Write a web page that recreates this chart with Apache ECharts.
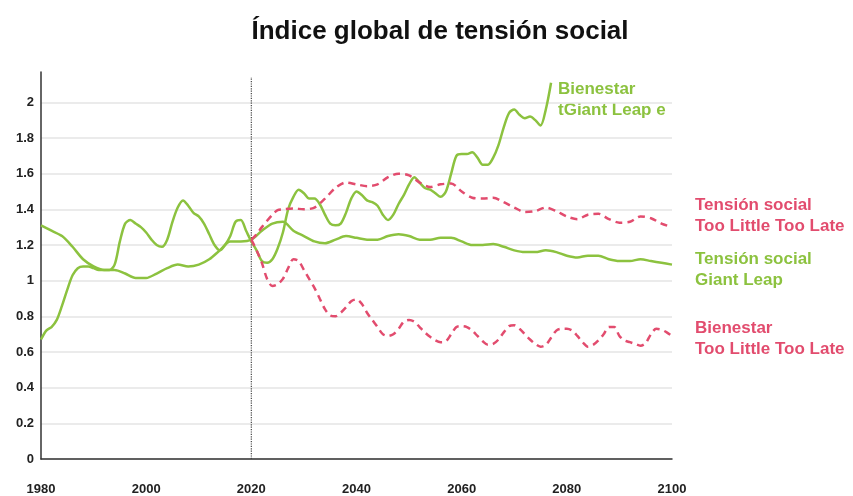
<!DOCTYPE html>
<html>
<head>
<meta charset="utf-8">
<script src="https://cdn.jsdelivr.net/npm/echarts@6/dist/echarts.min.js"></script>
<style>
  html, body { margin: 0; padding: 0; background: #fff; }
  #root { width: 853px; height: 496px; }
</style>
</head>
<body>
<div id="root"></div>
<script>
// Bienestar - Giant Leap (1980-2077)
const bienestarGLYears = [1980,1981,1982,1983,1984,1985,1986,1987,1988,1989,1990,1991,1992,1993,1994,1995,1996,1997,1998,1999,
  2000,2001,2002,2003,2004,2005,2006,2007,2008,2009,2010,2011,2012,2013,2014,2015,2016,2017,2018,2019,
  2020,2021,2022,2023,2024,2025,2026,2027,2028,2029,2030,2031,2032,2033,2034,2035,2036,2037,2038,2039,
  2040,2041,2042,2043,2044,2045,2046,2047,2048,2049,2050,2051,2052,2053,2054,2055,2056,2057,2058,2059,
  2060,2061,2062,2063,2064,2065,2066,2067,2068,2069,2070,2071,2072,2073,2074,2075,2076,2077];
const bienestarGL = [0.67,0.72,0.74,0.78,0.86,0.95,1.03,1.07,1.08,1.08,1.07,1.06,1.06,1.06,1.09,1.22,1.32,1.34,1.32,1.30,
  1.27,1.23,1.20,1.19,1.23,1.33,1.41,1.45,1.42,1.38,1.36,1.32,1.26,1.20,1.17,1.20,1.25,1.33,1.34,1.28,
  1.22,1.17,1.11,1.10,1.12,1.18,1.27,1.40,1.47,1.51,1.49,1.46,1.46,1.43,1.37,1.32,1.31,1.32,1.38,1.46,
  1.50,1.48,1.45,1.44,1.42,1.37,1.34,1.37,1.43,1.48,1.54,1.58,1.55,1.52,1.51,1.49,1.47,1.50,1.60,1.70,
  1.71,1.71,1.72,1.69,1.65,1.65,1.69,1.76,1.86,1.94,1.96,1.93,1.91,1.92,1.90,1.87,1.96,2.11];

// Tensión social - Giant Leap (1980-2100, every 2 years)
const tensionGLYears = [1980,1982,1984,1986,1988,1990,1992,1994,1996,1998,2000,2002,2004,2006,2008,2010,2012,2014,2016,2018,
  2020,2022,2024,2026,2028,2030,2032,2034,2036,2038,2040,2042,2044,2046,2048,2050,2052,2054,2056,2058,
  2060,2062,2064,2066,2068,2070,2072,2074,2076,2078,2080,2082,2084,2086,2088,2090,2092,2094,2096,2098,2100];
const tensionGL = [1.31,1.28,1.25,1.19,1.12,1.08,1.06,1.06,1.04,1.015,1.015,1.04,1.07,1.09,1.08,1.09,1.12,1.17,1.22,1.22,
  1.23,1.28,1.32,1.33,1.28,1.25,1.22,1.21,1.23,1.25,1.24,1.23,1.23,1.25,1.26,1.25,1.23,1.23,1.24,1.24,
  1.22,1.20,1.20,1.205,1.19,1.17,1.16,1.16,1.17,1.16,1.14,1.13,1.14,1.14,1.12,1.11,1.11,1.12,1.11,1.10,1.09];

// Tensión social - Too Little Too Late (2020-2100)
const tensionTLYears = [2020,2021,2022,2024,2025,2026,2028,2030,2032,2034,2036,2038,2040,2042,2044,2046,2048,2050,2052,2054,
  2056,2058,2060,2062,2064,2066,2068,2070,2072,2074,2076,2078,2080,2082,2084,2086,2088,2090,2092,2094,2096,2098,2100];
const tensionTL = [1.23,1.26,1.30,1.37,1.395,1.40,1.405,1.40,1.41,1.46,1.52,1.55,1.54,1.53,1.54,1.58,1.60,1.59,1.55,1.525,
  1.54,1.545,1.50,1.465,1.46,1.465,1.44,1.41,1.385,1.39,1.41,1.39,1.36,1.345,1.37,1.375,1.345,1.325,1.33,1.36,1.35,1.32,1.30];

// Bienestar - Too Little Too Late (2020-2100)
const bienestarTLYears = [2020,2021,2022,2023,2024,2025,2026,2027,2028,2029,2030,2031,2032,2033,2034,2035,2036,2037,2038,2039,
  2040,2041,2042,2043,2044,2045,2046,2047,2048,2049,2050,2051,2052,2053,2054,2055,2056,2057,2058,2059,
  2060,2061,2062,2063,2064,2065,2066,2067,2068,2069,2070,2071,2072,2073,2074,2075,2076,2077,2078,2079,
  2080,2081,2082,2083,2084,2085,2086,2087,2088,2089,2090,2091,2092,2093,2094,2095,2096,2097,2098,2099,2100];
const bienestarTL = [1.23,1.17,1.10,1.01,0.97,0.98,1.01,1.07,1.12,1.11,1.06,1.01,0.96,0.90,0.84,0.805,0.80,0.82,0.85,0.885,
  0.895,0.87,0.82,0.78,0.74,0.70,0.69,0.70,0.73,0.77,0.78,0.77,0.74,0.71,0.685,0.665,0.655,0.66,0.70,0.74,
  0.745,0.74,0.72,0.69,0.66,0.64,0.645,0.67,0.71,0.745,0.75,0.73,0.70,0.67,0.645,0.63,0.64,0.68,0.72,0.73,
  0.73,0.72,0.69,0.655,0.63,0.64,0.665,0.70,0.74,0.74,0.69,0.665,0.655,0.645,0.635,0.65,0.70,0.73,0.725,0.71,0.69];

// vertical reference at 2020
const refYear = 2020;
const refRange = [0, 2.14];

const GREEN = '#8cc23f';
const PINK = '#e24c6e';
const FONT = '"Liberation Sans", Arial, sans-serif';

function pairs(xs, ys) {
  return xs.map((x, i) => [x, ys[i]]);
}

const chart = echarts.init(document.getElementById('root'));

const labelStyle = (text, color) => ({
  text: text,
  fill: color,
  font: 'bold 17px ' + FONT,
  lineHeight: 21
});

chart.setOption({
  animation: false,
  title: {
    text: 'Índice global de tensión social',
    left: 435,
    textAlign: 'center',
    top: 14,
    textStyle: { fontFamily: FONT, fontSize: 26, fontWeight: 'bold', color: '#111' }
  },
  grid: { left: 41, right: 181, top: 72, bottom: 36 },
  xAxis: {
    type: 'value',
    min: 1980,
    max: 2100,
    interval: 20,
    axisLine: { lineStyle: { color: '#333', width: 1.5 } },
    axisTick: { show: false },
    splitLine: { show: false },
    axisLabel: {
      margin: 24,
      color: '#222',
      fontFamily: FONT,
      fontWeight: 'bold',
      fontSize: 13,
      formatter: v => String(v)
    }
  },
  yAxis: {
    type: 'value',
    min: 0,
    max: 2.17,
    interval: 0.2,
    axisLine: { show: true, lineStyle: { color: '#333', width: 1.5 } },
    axisTick: { show: false },
    splitLine: { show: true, showMaxLine: false, lineStyle: { color: '#e4e4e4', width: 1.5 } },
    axisLabel: {
      margin: 7,
      showMaxLabel: false,
      color: '#222',
      fontFamily: FONT,
      fontWeight: 'bold',
      fontSize: 13
    }
  },
  series: [
    {
      name: 'ref',
      type: 'line',
      data: refRange.map(v => [refYear, v]),
      symbol: 'none',
      silent: true,
      lineStyle: { color: '#444', width: 1.2, type: 'dotted' }
    },
    {
      name: 'Tensión social Giant Leap',
      type: 'line',
      data: pairs(tensionGLYears, tensionGL),
      smooth: 0.3,
      symbol: 'none',
      lineStyle: { color: GREEN, width: 2.5 }
    },
    {
      name: 'Bienestar Giant Leap',
      type: 'line',
      data: pairs(bienestarGLYears, bienestarGL),
      smooth: 0.3,
      symbol: 'none',
      lineStyle: { color: GREEN, width: 2.5 }
    },
    {
      name: 'Tensión social Too Little Too Late',
      type: 'line',
      data: pairs(tensionTLYears, tensionTL),
      smooth: 0.3,
      symbol: 'none',
      lineStyle: { color: PINK, width: 2.5, type: [7, 5] }
    },
    {
      name: 'Bienestar Too Little Too Late',
      type: 'line',
      data: pairs(bienestarTLYears, bienestarTL),
      smooth: 0.3,
      symbol: 'none',
      lineStyle: { color: PINK, width: 2.5, type: [7, 5] }
    }
  ],
  graphic: [
    { type: 'text', left: 558, top: 79, style: labelStyle('Bienestar\ntGiant Leap e', GREEN) },
    { type: 'text', left: 695, top: 195, style: labelStyle('Tensión social\nToo Little Too Late', PINK) },
    { type: 'text', left: 695, top: 249, style: labelStyle('Tensión social\nGiant Leap', GREEN) },
    { type: 'text', left: 695, top: 318, style: labelStyle('Bienestar\nToo Little Too Late', PINK) }
  ]
});
</script>
</body>
</html>
